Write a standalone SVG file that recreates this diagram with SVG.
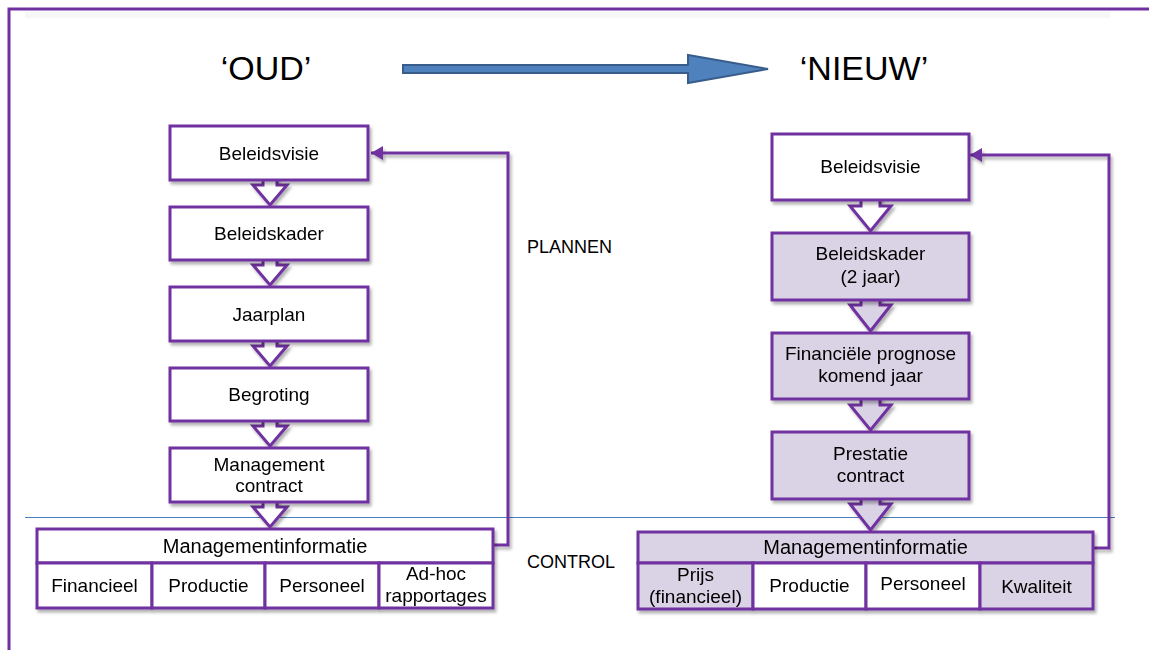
<svg xmlns="http://www.w3.org/2000/svg" width="1149" height="650" viewBox="0 0 1149 650">
<defs>
<style>
.box{stroke:#7030A0;stroke-width:3;fill:#FFFFFF}
.t{font-family:"Liberation Sans",Arial,sans-serif;font-size:19px;fill:#000;text-anchor:middle}
.mi{font-size:20px}
.lbl{font-family:"Liberation Sans",Arial,sans-serif;font-size:18px;fill:#000}
.title{font-family:"Liberation Sans",Arial,sans-serif;font-size:34px;fill:#000;text-anchor:middle}
.arr{stroke:#7030A0;stroke-width:3;fill:#FFFFFF;stroke-linejoin:miter}
.conn{stroke:#7030A0;stroke-width:3;fill:none}
.box.lav,.arr.lav{fill:#DAD2E5}
</style>
<filter id="sh" x="-10%" y="-10%" width="130%" height="140%">
<feDropShadow dx="2" dy="3" stdDeviation="1.8" flood-color="#000" flood-opacity="0.3"/>
</filter>
<marker id="ah" markerWidth="14" markerHeight="14" refX="12" refY="7" orient="auto" markerUnits="userSpaceOnUse">
<path d="M0,0 L12,7 L0,14 Z" fill="#7030A0"/>
</marker>
</defs>
<rect width="1149" height="650" fill="#FFFFFF"/>
<rect x="25" y="12" width="1085" height="6" fill="#F7F7F7"/>
<path d="M9,650 V9 H1149" fill="none" stroke="#7030A0" stroke-width="3"/>

<g id="title-oud"><text class="title" x="266" y="80">‘OUD’</text></g>
<g id="title-nieuw"><text class="title" x="864" y="80">‘NIEUW’</text></g>
<g id="big-arrow"><path d="M403,65 H688 V55 L768,69 L688,83 V73 H403 Z" fill="#4F81BD" stroke="#385D8A" stroke-width="2"/></g>

<line x1="25" y1="517.5" x2="1115" y2="517.5" stroke="#4A7EBB" stroke-width="1.2"/>
<g id="label-plannen"><text class="lbl" x="527" y="253">PLANNEN</text></g>
<g id="label-control"><text class="lbl" x="527" y="568">CONTROL</text></g>

<g id="connectors" filter="url(#sh)">
<path class="arr" d="M263,176 V185 H253 L270,205 L287,185 H277 V176"/>
<path class="arr" d="M263,256 V265 H253 L270,285 L287,265 H277 V256"/>
<path class="arr" d="M263,337 V346 H253 L270,366 L287,346 H277 V337"/>
<path class="arr" d="M263,417 V426 H253 L270,446 L287,426 H277 V417"/>
<path class="arr" d="M263,498 V507 H253 L270,527 L287,507 H277 V498"/>
<path class="arr" d="M861,196 V206 H850 L870.5,231 L891,206 H880 V196"/>
<path class="arr lav" d="M861,295 V305 H850 L870.5,331 L891,305 H880 V295"/>
<path class="arr lav" d="M861,395 V405 H850 L870.5,430 L891,405 H880 V395"/>
<path class="arr lav" d="M861,494 V504 H850 L870.5,530 L891,504 H880 V494"/>
<path class="conn" d="M493,545 H508 V153 H371" marker-end="url(#ah)"/>
<path class="conn" d="M1093,548 H1109 V155 H970" marker-end="url(#ah)"/>
</g>

<g filter="url(#sh)">
<g id="oud-beleidsvisie"><rect class="box" x="170" y="126" width="198" height="54"/><text class="t" x="269" y="159.5">Beleidsvisie</text></g>
<g id="oud-beleidskader"><rect class="box" x="170" y="207" width="198" height="53"/><text class="t" x="269" y="240">Beleidskader</text></g>
<g id="oud-jaarplan"><rect class="box" x="170" y="287" width="198" height="54"/><text class="t" x="269" y="320.5">Jaarplan</text></g>
<g id="oud-begroting"><rect class="box" x="170" y="368" width="198" height="53"/><text class="t" x="269" y="401">Begroting</text></g>
<g id="oud-managementcontract"><rect class="box" x="170" y="448" width="198" height="54"/><text class="t" x="269" y="471">Management</text><text class="t" x="269" y="492">contract</text></g>

<g id="oud-managementinformatie">
<rect class="box" x="37" y="529" width="456" height="34"/><text class="t mi" x="265" y="553">Managementinformatie</text>
<rect class="box" x="37" y="563" width="115" height="45"/><text class="t" x="94.5" y="592">Financieel</text>
<rect class="box" x="152" y="563" width="113" height="45"/><text class="t" x="208.5" y="592">Productie</text>
<rect class="box" x="265" y="563" width="114" height="45"/><text class="t" x="322" y="592">Personeel</text>
<rect class="box" x="379" y="563" width="114" height="45"/><text class="t" x="436" y="580">Ad-hoc</text><text class="t" x="436" y="602">rapportages</text>
</g>

<g id="nieuw-beleidsvisie"><rect class="box" x="772" y="134" width="197" height="66"/><text class="t" x="870.5" y="173">Beleidsvisie</text></g>
<g id="nieuw-beleidskader"><rect class="box lav" x="772" y="233" width="197" height="67"/><text class="t" x="870.5" y="260">Beleidskader</text><text class="t" x="870.5" y="283">(2 jaar)</text></g>
<g id="nieuw-financiele-prognose"><rect class="box lav" x="772" y="333" width="197" height="66"/><text class="t" x="870.5" y="360">Financiële prognose</text><text class="t" x="870.5" y="382">komend jaar</text></g>
<g id="nieuw-prestatiecontract"><rect class="box lav" x="772" y="432" width="197" height="67"/><text class="t" x="870.5" y="460">Prestatie</text><text class="t" x="870.5" y="482">contract</text></g>

<g id="nieuw-managementinformatie">
<rect class="box lav" x="638" y="532" width="455" height="31"/><text class="t mi" x="865.5" y="554">Managementinformatie</text>
<rect class="box lav" x="638" y="563" width="115" height="46"/><text class="t" x="695.5" y="581">Prijs</text><text class="t" x="695.5" y="603">(financieel)</text>
<rect class="box" x="753" y="563" width="113" height="46"/><text class="t" x="809.5" y="592">Productie</text>
<rect class="box" x="866" y="563" width="114" height="46"/><text class="t" x="923" y="590">Personeel</text>
<rect class="box lav" x="980" y="563" width="113" height="46"/><text class="t" x="1036.5" y="593">Kwaliteit</text>
</g>
</g>
</svg>
